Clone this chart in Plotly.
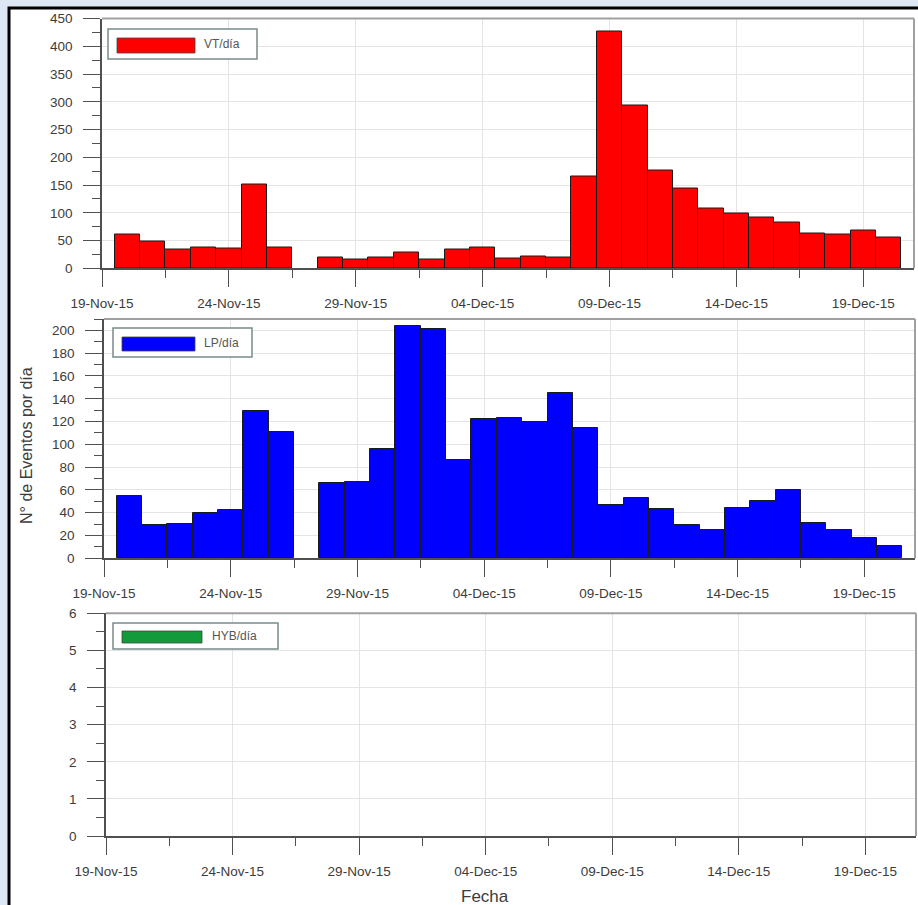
import plotly.graph_objects as go
import pandas as pd

# ---------------- data ----------------
dates = [d.strftime("%Y-%m-%d") for d in pd.date_range("2015-11-20", "2015-12-20", freq="D")]

vt_per_day = [61, 49, 33, 38, 35, 151, 37, None, 20, 15, 20,
              29, 15, 34, 37, 18, 21, 20, 165, 427, 294, 177, 144, 107,
              98, 92, 82, 63, 61, 69, 56]
lp_per_day = [55, 29, 30, 40, 42, 129, 111, None, 66, 67, 96,
              204, 201, 86, 122, 123, 120, 145, 114, 47, 53, 43, 29, 25,
              44, 50, 60, 31, 25, 18, 11]
hyb_per_day = [0] * 31

series_names = ["VT/día", "LP/día", "HYB/día"]
series_colors = ["#ff0000", "#0000ff", "#139a3a"]
y_ranges = [[0, 450], [0, 210], [0, 6]]
y_dticks = [50, 20, 1]
x_range = ["2015-11-19", "2015-12-21"]
y_title = "N° de Eventos por día"
x_title = "Fecha"

# ---------------- layout helpers ----------------
W, H = 918, 905
def px(x):
    return x / W
def py(y):
    return 1 - y / H

DAY = 86400000
FONT = "Liberation Sans, Arial, sans-serif"
TICK_COLOR = "#505050"
TEXT_COLOR = "#3c3c3c"

# panel pixel boxes: (left, right, top, bottom)
panels = [(102, 914, 18.5, 268.3), (104, 915, 319, 558.3), (106, 916, 613.3, 836)]

fig = go.Figure()
values = [vt_per_day, lp_per_day, hyb_per_day]

for i, (vals, name, col) in enumerate(zip(values, series_names, series_colors)):
    xa = "x" if i == 0 else f"x{i+1}"
    ya = "y" if i == 0 else f"y{i+1}"
    fig.add_trace(go.Bar(
        x=dates, y=vals, name=name, xaxis=xa, yaxis=ya,
        width=DAY, marker=dict(color=col, line=dict(color="#1a1a1a", width=1 if i < 2 else 0)),
        showlegend=False,
    ))

layout = dict(
    width=W, height=H, margin=dict(l=0, r=0, t=0, b=0, pad=0),
    paper_bgcolor="#dde8f4", plot_bgcolor="rgba(0,0,0,0)",
    bargap=0, font=dict(family=FONT, color=TEXT_COLOR),
)

for i, (l, r, t, b) in enumerate(panels):
    xk = "xaxis" if i == 0 else f"xaxis{i+1}"
    yk = "yaxis" if i == 0 else f"yaxis{i+1}"
    layout[xk] = dict(
        domain=[px(l), px(r)], anchor="y" if i == 0 else f"y{i+1}",
        type="date", range=x_range, tick0="2015-11-19", dtick=5 * DAY,
        tickformat="%d-%b-%y", ticks="outside", ticklen=17, tickwidth=1.3,
        tickcolor=TICK_COLOR, showline=True, linecolor=TICK_COLOR, linewidth=1.5,
        showgrid=True, gridcolor="#e4e4e4", gridwidth=1, zeroline=False,
        tickfont=dict(size=13.5, color=TEXT_COLOR, family=FONT),
        ticklabelstandoff=5, automargin=False,
        minor=dict(dtick=2.5 * DAY, tick0="2015-11-19", ticks="outside", ticklen=8,
                   tickcolor=TICK_COLOR, tickwidth=1.3, showgrid=False),
        fixedrange=True,
    )
    layout[yk] = dict(
        domain=[py(b), py(t)], anchor="x" if i == 0 else f"x{i+1}",
        range=y_ranges[i], dtick=y_dticks[i], tick0=0,
        ticks="outside", ticklen=17, tickwidth=1.3, tickcolor=TICK_COLOR,
        showline=True, linecolor=TICK_COLOR, linewidth=1.5,
        showgrid=True, gridcolor="#e4e4e4", gridwidth=1, zeroline=False,
        tickfont=dict(size=13.5, color=TEXT_COLOR, family=FONT),
        ticklabelstandoff=8, automargin=False,
        minor=dict(dtick=y_dticks[i] / 2, ticks="outside", ticklen=8,
                   tickcolor=TICK_COLOR, tickwidth=1.3, showgrid=False),
        fixedrange=True,
    )

fig.update_layout(**layout)

shapes = []
# outer white frame with black border
shapes.append(dict(type="rect", xref="paper", yref="paper",
                   x0=px(9), x1=px(940), y0=py(930), y1=py(8),
                   fillcolor="white", line=dict(color="black", width=3), layer="below"))
# panel top/right spines
for (l, r, t, b) in panels:
    shapes.append(dict(type="line", xref="paper", yref="paper",
                       x0=px(l), x1=px(r), y0=py(t), y1=py(t),
                       line=dict(color="#a0a0a0", width=2)))
    shapes.append(dict(type="line", xref="paper", yref="paper",
                       x0=px(r), x1=px(r), y0=py(t), y1=py(b),
                       line=dict(color="#a0a0a0", width=2)))

# legend boxes: (box l, r, t, b), (swatch l, r, t, b), text x
legend_boxes = [
    ((108, 257, 29, 59), (117, 195, 38, 53), 202),
    ((113, 252, 328, 357), (122, 195, 337, 351), 202),
    ((113, 278, 623, 649), (122, 202, 631, 643), 210),
]
annotations = []
for (box, sw, tx), name, col in zip(legend_boxes, series_names, series_colors):
    shapes.append(dict(type="rect", xref="paper", yref="paper",
                       x0=px(box[0]), x1=px(box[1]), y0=py(box[3]), y1=py(box[2]),
                       fillcolor="white", line=dict(color="#7a8a8a", width=1.5)))
    shapes.append(dict(type="rect", xref="paper", yref="paper",
                       x0=px(sw[0]), x1=px(sw[1]), y0=py(sw[3]), y1=py(sw[2]),
                       fillcolor=col, line=dict(color="#444444", width=0.8)))
    annotations.append(dict(xref="paper", yref="paper", x=px(tx), y=py((box[2] + box[3]) / 2),
                            text=name, showarrow=False, xanchor="left", yanchor="middle",
                            font=dict(size=12, color="#555555", family=FONT)))

annotations.append(dict(xref="paper", yref="paper", x=px(26), y=py(446), text=y_title,
                        textangle=-90, showarrow=False, xanchor="center", yanchor="middle",
                        font=dict(size=16, color=TEXT_COLOR, family=FONT)))
annotations.append(dict(xref="paper", yref="paper", x=px(484.5), y=py(896), text=x_title,
                        showarrow=False, xanchor="center", yanchor="middle",
                        font=dict(size=17, color=TEXT_COLOR, family=FONT)))

fig.update_layout(shapes=shapes, annotations=annotations)
fig.write_html("out.html")
